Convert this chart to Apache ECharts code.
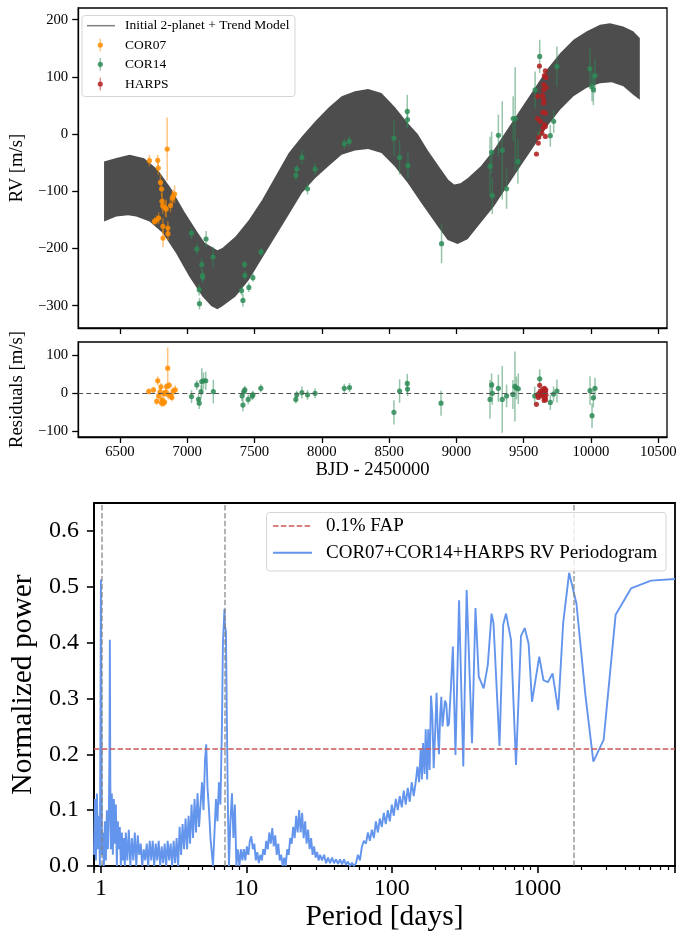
<!DOCTYPE html>
<html>
<head>
<meta charset="utf-8">
<script src="https://cdn.jsdelivr.net/npm/echarts@6/dist/echarts.min.js"></script>
<style>
  html, body { margin: 0; padding: 0; background: #fff; }
  #chart { width: 692px; height: 933px; }
</style>
</head>
<body>
<div id="chart"></div>
<script>
// ---- data ----
const rvTicks = [-300, -200, -100, 0, 100, 200]
const resTicks = [-100, 0, 100]
const bjdTicks = [6500, 7000, 7500, 8000, 8500, 9000, 9500, 10000, 10500]
const powerTicks = [0, 0.1, 0.2, 0.3, 0.4, 0.5, 0.6]
const periodLabels = [1, 10, 100, 1000]

// model band edges (BJD, RV)
const modelUpper = [
  [6382, -47.7], [6473, -41.8], [6572, -36], [6680, -42], [6780, -62], [6880, -95], [6980, -136],
  [7080, -173], [7130, -190], [7224, -203], [7261, -199], [7359, -179], [7458, -150], [7556, -115],
  [7655, -74], [7754, -33], [7852, -4], [7950, 22], [8049, 46], [8147, 66], [8246, 75], [8344, 79],
  [8443, 72], [8541, 48], [8640, 19], [8713, 0], [8787, -28], [8886, -62], [8940, -80], [8984, -88],
  [9030, -86], [9083, -77], [9181, -56], [9280, -27], [9378, 8], [9476, 43], [9575, 78], [9673, 113],
  [9772, 142], [9870, 165], [9969, 180], [10067, 191], [10141, 194], [10240, 188], [10314, 180], [10363, 168]
]
const modelLower = [
  [6382, -152.6], [6473, -144], [6560, -142], [6621, -144], [6720, -153], [6818, -173], [6916, -208],
  [7015, -249], [7113, -284], [7180, -301], [7224, -306], [7261, -301], [7359, -284], [7458, -255],
  [7556, -217], [7655, -179], [7754, -141], [7852, -103], [7950, -77], [8049, -56], [8147, -36],
  [8246, -28.5], [8344, -26], [8443, -33], [8541, -56], [8640, -86], [8738, -120], [8861, -161],
  [8935, -185], [9009, -192], [9083, -184], [9181, -155], [9280, -126], [9378, -91], [9476, -56],
  [9575, -21.5], [9673, 13.5], [9772, 43], [9870, 66], [9969, 81], [10067, 89], [10154, 90.5],
  [10240, 83.5], [10314, 69], [10363, 60]
]

// [BJD, RV, err]
const cor07 = [
  [6719, -46.5, 10], [6756, -152.6, 7], [6773, -149.7, 8], [6781, -45.9, 10], [6785, -59.3, 12],
  [6788, -146.7, 10], [6801, -84.4, 14], [6810, -96, 14], [6812, -117.6, 14], [6818, -125.2, 14],
  [6819, -161.3, 14], [6820, -181.7, 16], [6838, -129.3, 15], [6844, -131, 15], [6851, -26.1, 55],
  [6856, -164.2, 12], [6857, -174.1, 12], [6876, -125, 12], [6889, -111.8, 12], [6894, -108.9, 12],
  [6906, -104.8, 15]
]
const cor14 = [
  [7032, -173, 10], [7071, -201, 10], [7089, -272, 10], [7091, -296.5, 10], [7108, -228, 11],
  [7113, -247.6, 10], [7115, -250, 10], [7140, -183.4, 14], [7192, -214.9, 18], [7404, -273.8, 8],
  [7414, -290.7, 11], [7426, -228, 7], [7428, -247, 8], [7458, -268, 8], [7488, -251, 7],
  [7549, -206, 8], [7807, -72, 9], [7814, -61, 7], [7852, -40.7, 12], [7894, -95.5, 10],
  [7950, -61, 11], [8167, -17, 9], [8204, -12.7, 9], [8536, -6.9, 32], [8578, -40.7, 30],
  [8635, 39.7, 29], [8637, 25.2, 12], [8640, -54.7, 23], [8890, -191.6, 34], [9250, -56.4, 52],
  [9262, -31.9, 36], [9267, -107.7, 32], [9312, -2.2, 36], [9341, -28.4, 86], [9373, -95.5, 35],
  [9422, 27.1, 39], [9437, 27.1, 90], [9457, -47.7, 39], [9585, 77.6, 32], [9619, 135.9, 29],
  [9624, 0.7, 9], [9698, -2.8, 19], [9723, 22.3, 20], [9747, 118.4, 35], [9993, 114.3, 36],
  [10008, 83.4, 26], [10018, 77.6, 27], [10030, 102.1, 30]
]
const harps = [
  [9617, 119, 3], [9661, 110.8, 3], [9654, 102.1, 3], [9666, 99.2, 3], [9649, 86.4, 3],
  [9666, 81.7, 3], [9649, 77.6, 3], [9604, 66, 3], [9641, 67.7, 3], [9649, 60.1, 3],
  [9649, 54.3, 3], [9661, 36.8, 3], [9644, 38, 3], [9604, 27.1, 3], [9624, 22.3, 3],
  [9654, 16.4, 3], [9644, 10.6, 3], [9661, 13.5, 3], [9612, -5.7, 3], [9636, 1.9, 3],
  [9661, -4, 3], [9609, -15.6, 3], [9595, -34.8, 3]
]

// residuals [BJD, res, err]
const resCor07 = [
  [6714, 4, 8], [6749, 8, 8], [6773, -22, 10], [6781, 32, 12], [6788, -8, 10], [6798, 3, 10],
  [6805, 16, 10], [6808, -26, 10], [6813, -18, 12], [6820, -28, 8], [6826, -2, 10], [6832, -24, 10],
  [6840, 2, 12], [6847, 17, 10], [6855, 65, 55], [6860, -5, 12], [6867, 20, 10], [6880, -8, 10],
  [6886, -12, 10], [6895, 5, 10], [6911, 8, 12]
]
const resCor14 = [
  [7032, -9.6, 17], [7071, 21, 13], [7084, -16.7, 13], [7089, -27, 15], [7103, 3.5, 18],
  [7108, 30, 35], [7121, 32, 22], [7138, 32, 24], [7194, 3.5, 31], [7408, -8, 13],
  [7414, -32, 16], [7421, 3.5, 11], [7428, 8, 11], [7453, -17, 13], [7483, -8, 11],
  [7488, -5, 11], [7547, 12, 11], [7807, -17, 11], [7814, -5, 11], [7852, 1, 16],
  [7894, -5, 13], [7950, -1, 13], [8167, 12, 12], [8206, 14, 12], [8536, -51, 32],
  [8578, 5, 31], [8635, 25, 25], [8637, 10, 18], [8886, -27, 33], [9250, -17, 51],
  [9262, 21, 30], [9267, -1, 30], [9312, 12, 36], [9341, -17, 88], [9373, -8, 30],
  [9420, -4, 38], [9435, 17, 92], [9446, 13, 30], [9460, 11, 40], [9582, -8, 25],
  [9619, 37, 25], [9624, -3, 10], [9698, -25, 20], [9722, -3, 20], [9747, 5, 30],
  [9993, 6, 38], [10008, -60, 32], [10018, -13, 25], [10030, 12, 28]
]
const resHarps = [
  [9595, -30, 3], [9604, -5, 3], [9609, -12, 3], [9612, -2, 3], [9617, -8, 3], [9619, 20, 3],
  [9624, 5, 3], [9636, -3, 3], [9641, 8, 3], [9644, 2, 3], [9649, -10, 3], [9654, 12, 3],
  [9656, -15, 3], [9661, 6, 3], [9666, -5, 3], [9662, -18, 3], [9658, 0, 3], [9645, -7, 3],
  [9650, 10, 3], [9652, -20, 3], [9647, 3, 3], [9660, -12, 3], [9664, 8, 3]
]

// periodogram [period (days), normalized power]
const periodogram = [
  [0.896, 0.02], [0.910, 0.12], [0.924, 0.01], [0.939, 0.13], [0.954, 0.03], [0.969, 0.09], [0.984, 0.00],
  [0.994, 0.30], [1.000, 0.513], [1.008, 0.25], [1.016, 0.02], [1.032, 0.06], [1.048, 0.00], [1.065, 0.08],
  [1.082, 0.01], [1.099, 0.10], [1.117, 0.03], [1.134, 0.09], [1.145, 0.20], [1.152, 0.405], [1.161, 0.15],
  [1.171, 0.03], [1.189, 0.13], [1.208, 0.02], [1.228, 0.12], [1.247, 0.04], [1.267, 0.11], [1.287, 0.00],
  [1.308, 0.08], [1.328, 0.03], [1.349, 0.07], [1.371, 0.00], [1.393, 0.06], [1.415, 0.01], [1.437, 0.05],
  [1.460, 0.00], [1.483, 0.06],
  [1.519, 0.01], [1.555, 0.065], [1.593, 0.00], [1.631, 0.05], [1.670, 0.01], [1.710, 0.06], [1.751, 0.00],
  [1.792, 0.055], [1.835, 0.02], [1.879, 0.04], [1.924, 0.00], [1.970, 0.03], [2.017, 0.01], [2.066, 0.04],
  [2.115, 0.00], [2.166, 0.045], [2.218, 0.01], [2.271, 0.045], [2.325, 0.00], [2.381, 0.04], [2.438, 0.01],
  [2.496, 0.045], [2.556, 0.00], [2.617, 0.035], [2.680, 0.005], [2.744, 0.04], [2.810, 0.00], [2.877, 0.045],
  [2.946, 0.01], [3.016, 0.04], [3.088, 0.00], [3.162, 0.045], [3.238, 0.005], [3.315, 0.05], [3.395, 0.00],
  [3.476, 0.07], [3.559, 0.02], [3.644, 0.075], [3.732, 0.03], [3.821, 0.085], [3.913, 0.03], [4.006, 0.09],
  [4.102, 0.04], [4.200, 0.11], [4.301, 0.05], [4.404, 0.12], [4.509, 0.06], [4.617, 0.13], [4.728, 0.07],
  [4.841, 0.11], [4.957, 0.15], [5.076, 0.10], [5.197, 0.19], [5.297, 0.218], [5.407, 0.14], [5.537, 0.10],
  [5.667, 0.05], [5.803, 0.02], [5.895, 0.00], [6.036, 0.06], [6.181, 0.12], [6.329, 0.08], [6.479, 0.15],
  [6.634, 0.11], [6.794, 0.25], [6.902, 0.40], [7.013, 0.44], [7.069, 0.46], [7.125, 0.43], [7.238, 0.42],
  [7.354, 0.25], [7.471, 0.10], [7.590, 0.00], [7.770, 0.08], [7.960, 0.13], [8.150, 0.05], [8.340, 0.11],
  [8.540, 0.00], [8.740, 0.03], [8.960, 0.00], [9.170, 0.03], [9.390, 0.01], [9.610, 0.03], [9.840, 0.01],
  [10.08, 0.035], [10.32, 0.02], [10.57, 0.045], [10.82, 0.053], [11.08, 0.03], [11.34, 0.04], [11.62, 0.01],
  [11.89, 0.025], [12.18, 0.005], [12.47, 0.02], [12.77, 0.01], [13.07, 0.03], [13.39, 0.02], [13.71, 0.045],
  [14.04, 0.03], [14.37, 0.06], [14.72, 0.04], [15.07, 0.068], [15.43, 0.035], [15.80, 0.055], [16.18, 0.02],
  [16.57, 0.04], [16.96, 0.01], [17.37, 0.02], [17.78, 0.00], [18.21, 0.015], [18.64, 0.00], [19.09, 0.03],
  [19.55, 0.02], [20.01, 0.05], [20.49, 0.04], [20.98, 0.07], [21.48, 0.05], [22.00, 0.09], [22.52, 0.06],
  [23.07, 0.10], [23.62, 0.06], [24.18, 0.095], [24.76, 0.05], [25.36, 0.08], [25.96, 0.04], [26.58, 0.065],
  [27.22, 0.03], [27.87, 0.05], [28.54, 0.02], [29.23, 0.035], [29.92, 0.015], [30.64, 0.025], [31.37, 0.01],
  [32.12, 0.02], [33.15, 0.01], [34.21, 0.02], [35.31, 0.005], [36.44, 0.015], [37.61, 0.005], [38.82, 0.015],
  [40.06, 0.005], [41.35, 0.012], [42.67, 0.004], [44.04, 0.012], [45.45, 0.003], [46.91, 0.012], [48.41, 0.002],
  [49.96, 0.008], [51.57, 0.000], [53.21, 0.006], [54.92, 0.000], [56.68, 0.005], [58.50, 0.02], [60.37, 0.010],
  [62.3, 0.035], [64.3, 0.045], [66.4, 0.04], [68.5, 0.06], [70.7, 0.045], [72.9, 0.065], [75.3, 0.05],
  [77.7, 0.08], [80.2, 0.06], [82.7, 0.085], [85.4, 0.07], [88.1, 0.095], [90.9, 0.075], [93.9, 0.10],
  [96.9, 0.08], [100.0, 0.11], [103.2, 0.09], [106.5, 0.12], [109.9, 0.10], [113.4, 0.125], [117.1, 0.105],
  [120.8, 0.135], [124.7, 0.11], [128.7, 0.14], [132.8, 0.115], [137.1, 0.15], [141.5, 0.125], [146.0, 0.15],
  [150, 0.178], [154, 0.15], [158, 0.21], [161, 0.155], [164, 0.22], [168, 0.165], [171, 0.245],
  [175, 0.155], [178, 0.245], [182, 0.172], [186, 0.305], [190, 0.27], [194, 0.175], [198, 0.23],
  [203, 0.31], [207, 0.24], [211, 0.20], [215, 0.27], [219, 0.303], [223, 0.25], [227, 0.27],
  [232, 0.296], [237, 0.29], [242, 0.25], [247, 0.255], [255, 0.32], [263, 0.393], [274, 0.199],
  [290, 0.476], [310, 0.178], [327, 0.494], [356, 0.22], [376, 0.462], [396, 0.339], [428, 0.318],
  [457, 0.36], [485, 0.452], [500, 0.435], [550, 0.215], [583, 0.432], [610, 0.452], [660, 0.405],
  [714, 0.181], [773, 0.412], [820, 0.426], [872, 0.398], [920, 0.294], [1032, 0.375], [1102, 0.333],
  [1183, 0.329], [1274, 0.345], [1393, 0.279], [1507, 0.435], [1656, 0.525], [1859, 0.470], [2145, 0.305],
  [2430, 0.187], [2860, 0.226], [3458, 0.450], [4410, 0.497], [6050, 0.511], [8850, 0.514]
]
const fapLevel = 0.2137
const periodMarks = [1.01, 7.07, 1774]

// ---- style ----
const FONT = '"Liberation Serif", "DejaVu Serif", serif'
const C07 = '#ff8c00'
const C14 = '#2e8b57'
const CHARPS = '#b22222'

function errorBars (name, data, color, axis, dotR) {
  return {
    name: name,
    type: 'custom',
    xAxisIndex: axis,
    yAxisIndex: axis,
    data: data,
    encode: { x: 0, y: 1 },
    renderItem: function (params, api) {
      const x = api.value(0)
      const y = api.value(1)
      const e = api.value(2)
      const lo = api.coord([x, y - e])
      const hi = api.coord([x, y + e])
      const c = api.coord([x, y])
      return {
        type: 'group',
        children: [
          { type: 'line', shape: { x1: lo[0], y1: lo[1], x2: hi[0], y2: hi[1] }, style: { stroke: color, lineWidth: 1.5, opacity: 0.5 } },
          { type: 'circle', shape: { cx: c[0], cy: c[1], r: dotR }, style: { fill: color, opacity: 0.85 } }
        ]
      }
    }
  }
}

function tickAxis (extra) {
  return Object.assign({
    type: 'value',
    scale: true,
    splitLine: { show: false },
    axisLine: { show: true, onZero: false, lineStyle: { color: '#000', width: 1.3 } },
    axisTick: { show: true, inside: false, length: 6, lineStyle: { color: '#000', width: 1.3 } },
    nameTextStyle: { fontFamily: FONT, fontSize: 18.7, color: '#000' }
  }, extra)
}

function plainNum (v) {
  return v < 0 ? '\u2212' + Math.abs(v) : String(v)
}

const chart = echarts.init(document.getElementById('chart'))

chart.setOption({
  animation: false,
  backgroundColor: '#fff',
  grid: [
    { left: 75, top: 8, width: 592, height: 320, show: true, borderColor: '#000', borderWidth: 1.3 },
    { left: 75, top: 342, width: 592, height: 95, show: true, borderColor: '#000', borderWidth: 1.3 },
    { left: 93, top: 503, width: 582, height: 363, show: true, borderColor: '#000', borderWidth: 1.8 }
  ],
  xAxis: [
    tickAxis({
      gridIndex: 0, min: 6190, max: 10565,
      axisTick: { show: true, length: 6, customValues: bjdTicks, lineStyle: { color: '#000', width: 1.3 } },
      axisLabel: { show: false, customValues: bjdTicks }
    }),
    tickAxis({
      gridIndex: 1, min: 6190, max: 10565,
      name: 'BJD - 2450000', nameLocation: 'middle', nameGap: 21,
      axisTick: { show: true, length: 6, customValues: bjdTicks, lineStyle: { color: '#000', width: 1.3 } },
      axisLabel: { customValues: bjdTicks, margin: 8, fontFamily: FONT, fontSize: 14.7, color: '#000', formatter: plainNum }
    }),
    {
      type: 'log', gridIndex: 2, min: 0.895, max: 8850, logBase: 10,
      name: 'Period [days]', nameLocation: 'middle', nameGap: 33,
      nameTextStyle: { fontFamily: FONT, fontSize: 29.5, color: '#000' },
      splitLine: { show: false },
      axisLine: { show: true, onZero: false, lineStyle: { color: '#000', width: 1.8 } },
      axisTick: { show: true, length: 7, lineStyle: { color: '#000', width: 1.6 } },
      minorTick: { show: true, splitNumber: 9, length: 4, lineStyle: { color: '#000', width: 1.2 } },
      axisLabel: {
        interval: 0, margin: 11, fontFamily: FONT, fontSize: 24, color: '#000',
        formatter: function (v) {
          const hit = periodLabels.find(function (p) { return Math.abs(p - v) < 1e-6 })
          return hit ? String(hit) : ''
        }
      }
    }
  ],
  yAxis: [
    tickAxis({
      gridIndex: 0, min: -339, max: 220.5,
      name: 'RV [m/s]', nameLocation: 'middle', nameGap: 42,
      axisTick: { show: true, length: 6, customValues: rvTicks, lineStyle: { color: '#000', width: 1.3 } },
      axisLabel: { customValues: rvTicks, margin: 10, fontFamily: FONT, fontSize: 14.7, color: '#000', formatter: plainNum }
    }),
    tickAxis({
      gridIndex: 1, min: -116, max: 134,
      name: 'Residuals [m/s]', nameLocation: 'middle', nameGap: 42,
      axisTick: { show: true, length: 6, customValues: resTicks, lineStyle: { color: '#000', width: 1.3 } },
      axisLabel: { customValues: resTicks, margin: 10, fontFamily: FONT, fontSize: 14.7, color: '#000', formatter: plainNum }
    }),
    {
      type: 'value', gridIndex: 2, min: 0, max: 0.65,
      name: 'Normalized power', nameLocation: 'middle', nameGap: 48,
      nameTextStyle: { fontFamily: FONT, fontSize: 29.5, color: '#000' },
      splitLine: { show: false },
      axisLine: { show: true, onZero: false, lineStyle: { color: '#000', width: 1.8 } },
      axisTick: { show: true, length: 7, customValues: powerTicks, lineStyle: { color: '#000', width: 1.6 } },
      axisLabel: { customValues: powerTicks, margin: 15, fontFamily: FONT, fontSize: 24, color: '#000',
        formatter: function (v) { return v.toFixed(1) } }
    }
  ],
  series: [
    {
      name: 'Initial 2-planet + Trend Model',
      type: 'custom',
      xAxisIndex: 0,
      yAxisIndex: 0,
      data: modelUpper,
      encode: { x: 0, y: 1 },
      renderItem: function (params, api) {
        if (params.dataIndex !== 0) return null
        const pts = []
        modelUpper.forEach(function (p) { pts.push(api.coord(p)) })
        modelLower.slice().reverse().forEach(function (p) { pts.push(api.coord(p)) })
        return { type: 'polygon', shape: { points: pts }, style: { fill: '#4d4d4d' } }
      }
    },
    errorBars('COR07', cor07, C07, 0, 2.6),
    errorBars('COR14', cor14, C14, 0, 2.6),
    errorBars('HARPS', harps, CHARPS, 0, 2.6),
    Object.assign(errorBars('COR07 res', resCor07, C07, 1, 2.6), {
      markLine: {
        silent: true, symbol: ['none', 'none'], label: { show: false },
        lineStyle: { color: '#555', type: [5, 3], width: 1 },
        data: [{ yAxis: 0 }]
      }
    }),
    errorBars('COR14 res', resCor14, C14, 1, 2.6),
    errorBars('HARPS res', resHarps, CHARPS, 1, 2.6),
    {
      name: 'COR07+COR14+HARPS RV Periodogram',
      type: 'line',
      xAxisIndex: 2,
      yAxisIndex: 2,
      data: periodogram,
      showSymbol: false,
      symbol: 'none',
      lineStyle: { color: '#6495ed', width: 1.9 },
      markLine: {
        silent: true, symbol: ['none', 'none'], label: { show: false },
        data: [
          { yAxis: fapLevel, lineStyle: { color: '#cc5555', type: [5.5, 2.4], width: 1.6 } }
        ].concat(periodMarks.map(function (p) {
          return { xAxis: p, lineStyle: { color: 'rgba(128,128,128,0.75)', type: [5.5, 2.4], width: 1.6 } }
        }))
      }
    }
  ],
  graphic: [
    // top legend
    { type: 'rect', z: 100, shape: { x: 82, y: 15.5, width: 213, height: 81, r: 3 }, style: { fill: '#fff', stroke: '#d6d6d6', lineWidth: 1 } },
    { type: 'line', z: 101, shape: { x1: 87, y1: 25.7, x2: 115, y2: 25.7 }, style: { stroke: '#808080', lineWidth: 1.5 } },
    { type: 'text', z: 101, x: 125, y: 25.7, style: { text: 'Initial 2-planet + Trend Model', fontFamily: FONT, fontSize: 13.5, fill: '#000', textVerticalAlign: 'middle' } },
    { type: 'line', z: 101, shape: { x1: 100.3, y1: 38.7, x2: 100.3, y2: 51.3 }, style: { stroke: C07, lineWidth: 1.5, opacity: 0.5 } },
    { type: 'circle', z: 101, shape: { cx: 100.3, cy: 45, r: 2.6 }, style: { fill: C07, opacity: 0.85 } },
    { type: 'text', z: 101, x: 125, y: 45, style: { text: 'COR07', fontFamily: FONT, fontSize: 13.5, fill: '#000', textVerticalAlign: 'middle' } },
    { type: 'line', z: 101, shape: { x1: 100.3, y1: 58, x2: 100.3, y2: 70.6 }, style: { stroke: C14, lineWidth: 1.5, opacity: 0.5 } },
    { type: 'circle', z: 101, shape: { cx: 100.3, cy: 64.3, r: 2.6 }, style: { fill: C14, opacity: 0.85 } },
    { type: 'text', z: 101, x: 125, y: 64.3, style: { text: 'COR14', fontFamily: FONT, fontSize: 13.5, fill: '#000', textVerticalAlign: 'middle' } },
    { type: 'line', z: 101, shape: { x1: 100.3, y1: 77.7, x2: 100.3, y2: 90.3 }, style: { stroke: CHARPS, lineWidth: 1.5, opacity: 0.5 } },
    { type: 'circle', z: 101, shape: { cx: 100.3, cy: 84, r: 2.6 }, style: { fill: CHARPS, opacity: 0.85 } },
    { type: 'text', z: 101, x: 125, y: 84, style: { text: 'HARPS', fontFamily: FONT, fontSize: 13.5, fill: '#000', textVerticalAlign: 'middle' } },
    // bottom legend
    { type: 'rect', z: 100, shape: { x: 266.5, y: 512.5, width: 399.5, height: 58.5, r: 3 }, style: { fill: 'rgba(255,255,255,0.8)', stroke: '#d6d6d6', lineWidth: 1 } },
    { type: 'line', z: 101, shape: { x1: 273, y1: 526, x2: 312, y2: 526 }, style: { stroke: '#cc5555', lineWidth: 1.6, lineDash: [5.5, 2.4] } },
    { type: 'text', z: 101, x: 326, y: 526.5, style: { text: '0.1% FAP', fontFamily: FONT, fontSize: 19, fill: '#000', textVerticalAlign: 'middle' } },
    { type: 'line', z: 101, shape: { x1: 273, y1: 552.7, x2: 312, y2: 552.7 }, style: { stroke: '#6495ed', lineWidth: 1.9 } },
    { type: 'text', z: 101, x: 326, y: 553, style: { text: 'COR07+COR14+HARPS RV Periodogram', fontFamily: FONT, fontSize: 19, fill: '#000', textVerticalAlign: 'middle' } }
  ]
})
</script>
</body>
</html>
